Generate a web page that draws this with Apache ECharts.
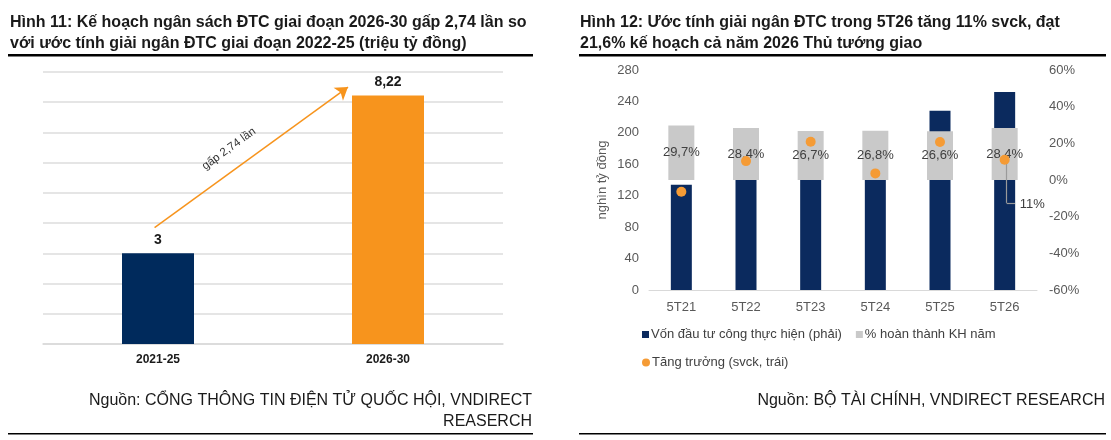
<!DOCTYPE html>
<html>
<head>
<meta charset="utf-8">
<script src="https://cdn.jsdelivr.net/npm/echarts@6/dist/echarts.min.js"></script>
<style>
  html, body { margin: 0; padding: 0; background: #fff; }
  #chart { width: 1111px; height: 440px; }
</style>
</head>
<body>
<div id="chart"></div>
<script>
// ---- Figure 11 data ----
const periods11 = ['2021-25', '2026-30'];
const budget11 = [3, 8.22];
const ratioText = 'gấp 2,74 lần';

// ---- Figure 12 data ----
const periods12 = ['5T21', '5T22', '5T23', '5T24', '5T25', '5T26'];
const disbursed = [134, 148, 179, 186, 228, 252];          // nghìn tỷ đồng
const completionPct = [29.7, 28.4, 26.7, 26.8, 26.6, 28.4]; // % hoàn thành KH năm
const growthPct = [-6.4, 10.3, 20.9, 3.6, 20.7, 11];        // % svck
const leftTicks = { min: 0, max: 280, interval: 40 };
const rightTicks = { min: -60, max: 60, interval: 20 };

const FONT = "'Liberation Sans', Arial, sans-serif";
const NAVY = '#0B2A5E';
const ORANGE = '#F7941D';
const DOT = '#F59B35';
const GRAY = '#C9C9C9';
const fmtComma = v => String(v).replace('.', ',');

const chart = echarts.init(document.getElementById('chart'), null, { renderer: 'canvas' });

const lastIdx = periods12.length - 1;
const lastGrowth = growthPct[lastIdx];

const option = {
  animation: false,
  backgroundColor: '#fff',
  textStyle: { fontFamily: FONT },
  title: [
    {
      text: 'Hình 11: Kế hoạch ngân sách ĐTC giai đoạn 2026-30 gấp 2,74 lần so\nvới ước tính giải ngân ĐTC giai đoạn 2022-25 (triệu tỷ đồng)',
      left: 10, top: 12, padding: 0,
      textStyle: { fontFamily: FONT, fontSize: 16, fontWeight: 'bold', color: '#1a1a1a', lineHeight: 21 }
    },
    {
      text: 'Hình 12: Ước tính giải ngân ĐTC trong 5T26 tăng 11% svck, đạt\n21,6% kế hoạch cả năm 2026 Thủ tướng giao',
      left: 580, top: 12, padding: 0,
      textStyle: { fontFamily: FONT, fontSize: 16, fontWeight: 'bold', color: '#1a1a1a', lineHeight: 21 }
    }
  ],
  grid: [
    { left: 43, top: 72, width: 460, height: 272 },
    { left: 649, top: 70, width: 388, height: 220 }
  ],
  legend: [
    {
      data: ['Vốn đầu tư công thực hiện (phải)', '% hoàn thành KH năm'],
      left: 642, top: 328, itemWidth: 7, itemHeight: 7, itemGap: 14, padding: 0,
      icon: 'rect',
      textStyle: { fontFamily: FONT, fontSize: 13, color: '#404040', padding: [0, 0, 0, -3] }
    },
    {
      data: [{ name: 'Tăng trưởng (svck, trái)', icon: 'circle' }],
      left: 642, top: 356, itemWidth: 8, itemHeight: 8, padding: 0,
      textStyle: { fontFamily: FONT, fontSize: 13, color: '#404040', padding: [0, 0, 0, -3] }
    }
  ],
  xAxis: [
    {
      gridIndex: 0, type: 'category', data: periods11,
      axisLine: { lineStyle: { color: '#d9d9d9', width: 1.5 } },
      axisTick: { show: false },
      axisLabel: { margin: 10, fontFamily: FONT, fontSize: 12, fontWeight: 'bold', color: '#1a1a1a' }
    },
    {
      gridIndex: 0, type: 'value', min: -0.5, max: 1.5, show: false
    },
    {
      gridIndex: 1, type: 'category', data: periods12,
      axisLine: { lineStyle: { color: '#d9d9d9' } },
      axisTick: { show: false },
      axisLabel: { margin: 11, fontFamily: FONT, fontSize: 13, color: '#595959' }
    },
    {
      gridIndex: 1, type: 'category', data: periods12, show: false
    },
    {
      gridIndex: 1, type: 'value', min: -0.5, max: periods12.length - 0.5, show: false
    }
  ],
  yAxis: [
    {
      gridIndex: 0, type: 'value', min: 0, max: 9, interval: 1,
      axisLabel: { show: false }, axisLine: { show: false }, axisTick: { show: false },
      splitLine: { lineStyle: { color: '#dcdcdc', width: 1.5 } }
    },
    {
      gridIndex: 1, type: 'value', min: leftTicks.min, max: leftTicks.max, interval: leftTicks.interval,
      name: 'nghìn tỷ đồng', nameLocation: 'middle', nameRotate: 90, nameGap: 40,
      nameTextStyle: { fontFamily: FONT, fontSize: 13, color: '#595959' },
      axisLine: { show: false }, axisTick: { show: false },
      axisLabel: { margin: 10, fontFamily: FONT, fontSize: 13, color: '#595959' },
      splitLine: { show: false }
    },
    {
      gridIndex: 1, type: 'value', position: 'right',
      min: rightTicks.min, max: rightTicks.max, interval: rightTicks.interval,
      axisLine: { show: false }, axisTick: { show: false },
      axisLabel: { margin: 12, fontFamily: FONT, fontSize: 13, color: '#595959', formatter: '{value}%' },
      splitLine: { show: false }
    }
  ],
  series: [
    {
      type: 'bar', xAxisIndex: 0, yAxisIndex: 0, barWidth: 72,
      data: budget11.map((v, i) => ({ value: v, itemStyle: { color: i === 0 ? '#002A5C' : ORANGE } })),
      label: {
        show: true, position: 'top', distance: 6,
        fontFamily: FONT, fontSize: 14, fontWeight: 'bold', color: '#1a1a1a',
        formatter: p => fmtComma(p.value)
      }
    },
    {
      type: 'scatter', xAxisIndex: 1, yAxisIndex: 0, data: [], silent: true,
      markLine: {
        silent: true, animation: false,
        symbol: ['none', 'arrow'], symbolSize: 12,
        lineStyle: { color: ORANGE, width: 1.5, type: 'solid' },
        label: {
          show: true, position: 'insideMiddleTop', distance: 14,
          formatter: ratioText, fontFamily: FONT, fontSize: 11.5, color: '#333',
          padding: [0, 26, 0, 0]
        },
        data: [[{ coord: [-0.015, 3.85] }, { coord: [0.826, 8.5] }]]
      }
    },
    {
      name: 'Vốn đầu tư công thực hiện (phải)',
      type: 'bar', xAxisIndex: 2, yAxisIndex: 1, barWidth: 21, z: 2,
      itemStyle: { color: NAVY },
      data: disbursed
    },
    {
      name: '% hoàn thành KH năm',
      type: 'bar', xAxisIndex: 3, yAxisIndex: 2, barWidth: 26, z: 3,
      itemStyle: { color: GRAY },
      label: {
        show: true, position: 'inside',
        fontFamily: FONT, fontSize: 13, color: '#404040',
        formatter: p => fmtComma(p.value) + '%'
      },
      data: completionPct
    },
    {
      // leader line for the 5T26 growth label
      type: 'scatter', xAxisIndex: 4, yAxisIndex: 2, data: [], silent: true, z: 4,
      markLine: {
        silent: true, animation: false, symbol: ['none', 'none'],
        lineStyle: { color: '#9a9a9a', width: 1.2, type: 'solid' },
        label: { show: false },
        data: [
          [{ coord: [lastIdx + 0.03, lastGrowth] }, { coord: [lastIdx + 0.03, -12.5] }],
          [{ coord: [lastIdx + 0.03, -12.5] }, { coord: [lastIdx + 0.16, -12.5] }]
        ]
      }
    },
    {
      name: 'Tăng trưởng (svck, trái)',
      type: 'scatter', xAxisIndex: 2, yAxisIndex: 2, symbolSize: 10, z: 5,
      itemStyle: { color: DOT, opacity: 1 },
      label: { show: false },
      labelLayout: { dx: 4, dy: 45 },
      data: growthPct.map((v, i) => i === lastIdx
        ? {
            value: v,
            label: {
              show: true, position: 'right', distance: 6,
              fontFamily: FONT, fontSize: 13, color: '#404040',
              formatter: p => fmtComma(Math.round(p.value)) + '%'
            }
          }
        : v)
    }
  ],
  graphic: [
    { type: 'rect', shape: { x: 8, y: 54, width: 525, height: 2.5 }, style: { fill: '#000' }, silent: true },
    { type: 'rect', shape: { x: 579, y: 54, width: 527, height: 2.5 }, style: { fill: '#000' }, silent: true },
    { type: 'rect', shape: { x: 8, y: 433, width: 525, height: 1.5 }, style: { fill: '#000' }, silent: true },
    { type: 'rect', shape: { x: 579, y: 433, width: 527, height: 1.5 }, style: { fill: '#000' }, silent: true },
    {
      type: 'text', x: 532, y: 401, silent: true,
      style: { text: 'Nguồn: CỔNG THÔNG TIN ĐIỆN TỬ QUỐC HỘI, VNDIRECT', align: 'right', verticalAlign: 'middle', font: '16px ' + FONT, fill: '#1a1a1a' }
    },
    {
      type: 'text', x: 532, y: 422, silent: true,
      style: { text: 'REASERCH', align: 'right', verticalAlign: 'middle', font: '16px ' + FONT, fill: '#1a1a1a' }
    },
    {
      type: 'text', x: 1105, y: 401, silent: true,
      style: { text: 'Nguồn: BỘ TÀI CHÍNH, VNDIRECT RESEARCH', align: 'right', verticalAlign: 'middle', font: '16px ' + FONT, fill: '#1a1a1a' }
    }
  ]
};

chart.setOption(option);
</script>
</body>
</html>
